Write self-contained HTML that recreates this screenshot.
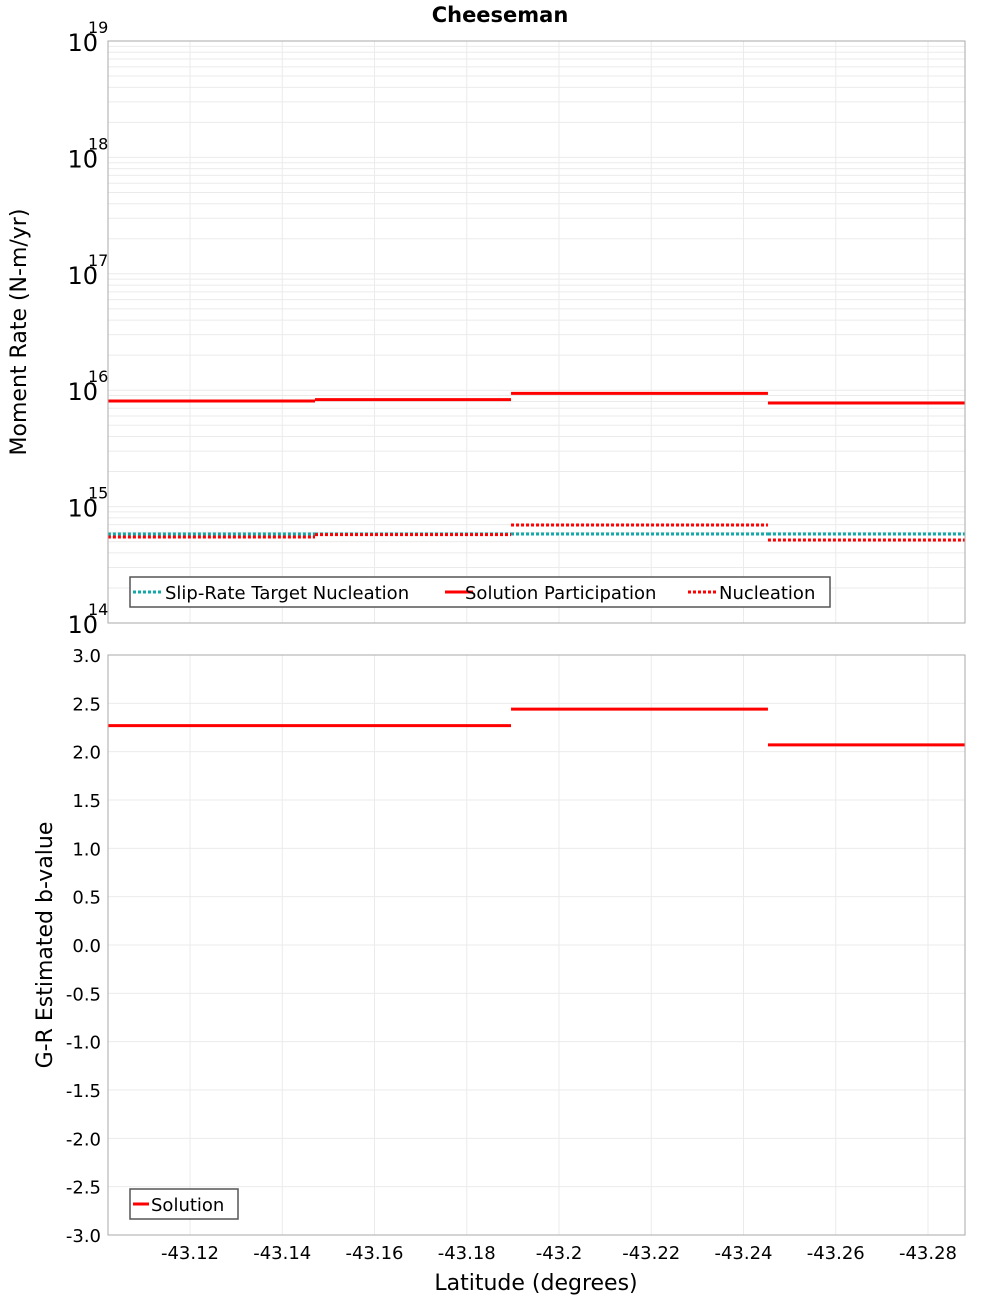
<!DOCTYPE html>
<html><head><meta charset="utf-8"><style>
body{margin:0;background:#fff;}
svg{display:block;font-family:"DejaVu Sans","Liberation Sans",sans-serif;}
</style></head><body>
<svg id="c" width="1000" height="1300" viewBox="0 0 1000 1300">
<text x="500" y="22" text-anchor="middle" font-size="21" font-weight="bold">Cheeseman</text>
<g id="topg"></g><g id="botg"></g>
<text transform="translate(26,332) rotate(-90)" text-anchor="middle" font-size="22">Moment Rate (N-m/yr)</text>
<text transform="translate(52,945) rotate(-90)" text-anchor="middle" font-size="22">G-R Estimated b-value</text>
<text x="536" y="1290" text-anchor="middle" font-size="22">Latitude (degrees)</text>
</svg>
<script>
const segEdges=[-43.1022,-43.1471,-43.1896,-43.2453,-43.288];
const participation=[8.07e15,8.3e15,9.4e15,7.77e15];
const nucleation=[5.48e14,5.75e14,6.95e14,5.16e14];
const target=[5.82e14,5.82e14,5.82e14,5.82e14];
const bValues=[2.27,2.27,2.44,2.07];
const xTicks=[-43.12,-43.14,-43.16,-43.18,-43.2,-43.22,-43.24,-43.26,-43.28];
const xTickLabels=["-43.12","-43.14","-43.16","-43.18","-43.2","-43.22","-43.24","-43.26","-43.28"];
const decades=[14,15,16,17,18,19];
const bTicks=[3,2.5,2,1.5,1,0.5,0,-0.5,-1,-1.5,-2,-2.5,-3];
const bTickLabels=["3.0","2.5","2.0","1.5","1.0","0.5","0.0","-0.5","-1.0","-1.5","-2.0","-2.5","-3.0"];

const NS="http://www.w3.org/2000/svg";
const L=108,R=965,T1=41,B1=623,T2=655,B2=1235;
const X=v=>190+(v-(-43.12))/(-0.02)*92.25;
const Y1=v=>B1-(Math.log10(v)-14)*(B1-T1)/5;
const Y2=v=>T2+(3-v)*(B2-T2)/6;
function mk(p,t,a){const e=document.createElementNS(NS,t);for(const k in a)e.setAttribute(k,a[k]);p.appendChild(e);return e;}
const gTop=document.getElementById('topg'),gBot=document.getElementById('botg');

for(const [g,t,b] of [[gTop,T1,B1],[gBot,T2,B2]]){
  const r=mk(g,'rect',{x:L,y:t,width:R-L,height:b-t,fill:'#fff',stroke:'none'});
  
  
  for(const v of xTicks){const x=X(v);mk(g,'line',{x1:x,x2:x,y1:t,y2:b,stroke:'#ebebeb'});}
}
for(const d of decades){
  for(let m=1;m<10;m++){
    if(d===19&&m>1)break;
    const y=Y1(m*Math.pow(10,d));
    mk(gTop,'line',{x1:L,x2:R,y1:y,y2:y,stroke:'#ebebeb'});
  }
  const y=Y1(Math.pow(10,d));
  const t=mk(gTop,'text',{x:98,y:y+10,'text-anchor':'end','font-size':24});t.textContent='10';
  
  
  const s=mk(gTop,'text',{x:88,y:y-8,'font-size':16});s.textContent=String(d);
}
bTicks.forEach((v,i)=>{const y=Y2(v);mk(gBot,'line',{x1:L,x2:R,y1:y,y2:y,stroke:'#ebebeb'});
  const t=mk(gBot,'text',{x:101,y:y+7,'text-anchor':'end','font-size':18});t.textContent=bTickLabels[i];
  
  });
xTicks.forEach((v,i)=>{const t=mk(gBot,'text',{x:X(v),y:1259,'text-anchor':'middle','font-size':18});t.textContent=xTickLabels[i];
  
  });

function series(g,vals,Y,color,dash,name){
  vals.forEach((v,i)=>{
    const a={x1:X(segEdges[i]),x2:X(segEdges[i+1]),y1:Y(v),y2:Y(v),stroke:color,'stroke-width':3};
    if(dash)a['stroke-dasharray']='3,2';
    const l=mk(g,'line',a);
    
    
  });
}
series(gTop,target,Y1,'#10a8a8',true,'target-nucleation');
series(gTop,participation,Y1,'#ff0000',false,'solution-participation');
series(gTop,nucleation,Y1,'#ff0000',true,'nucleation');
series(gBot,bValues,Y2,'#ff0000',false,'b-value');
for(const [t,b] of [[T1,B1],[T2,B2]])mk(document.getElementById('c'),'rect',{x:L,y:t,width:R-L,height:b-t,fill:'none',stroke:'#aaa'});

const lg=mk(gTop,'g',{});


mk(lg,'rect',{x:130,y:577,width:700,height:30,fill:'#fff',stroke:'#555','stroke-width':1.5});
const items=[[133,'#10a8a8',true,'Slip-Rate Target Nucleation',165],[445,'#ff0000',false,'Solution Participation',465],[688,'#ff0000',true,'Nucleation',719]];
for(const [x,c,d,txt,tx] of items){
  const a={x1:x,x2:x+28,y1:592,y2:592,stroke:c,'stroke-width':3};if(d)a['stroke-dasharray']='3,2';
  mk(lg,'line',a);
  const t=mk(lg,'text',{x:tx,y:599,'font-size':18});t.textContent=txt;
  
  
}
const lg2=mk(gBot,'g',{});


mk(lg2,'rect',{x:130,y:1189,width:108,height:30,fill:'#fff',stroke:'#555','stroke-width':1.5});
mk(lg2,'line',{x1:133,x2:149,y1:1204,y2:1204,stroke:'#ff0000','stroke-width':3});
const t2=mk(lg2,'text',{x:151,y:1211,'font-size':18});t2.textContent='Solution';


</script>
</body></html>
